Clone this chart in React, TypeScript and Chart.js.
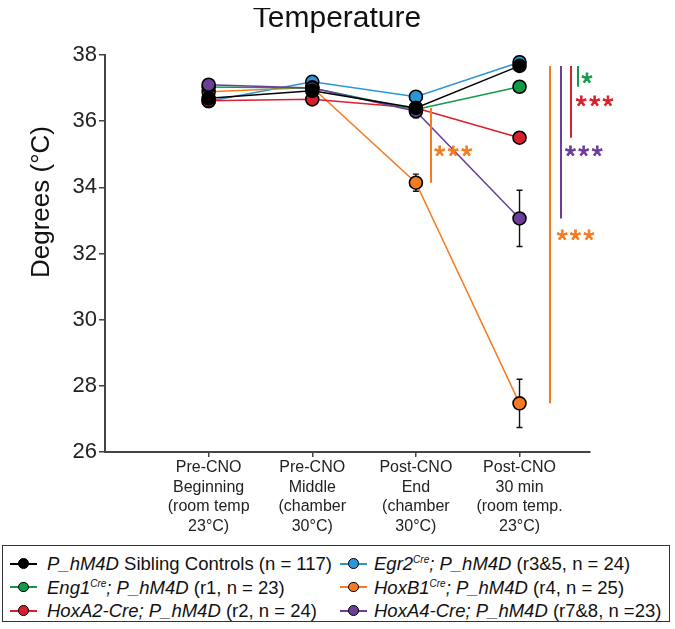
import React, { useEffect, useRef } from "react";
import { Chart, registerables } from "chart.js";

Chart.register(...registerables);

const FONT = "'Liberation Sans', Arial, Helvetica, sans-serif";

// Category positions and their multi-line labels
const xPositions = [1, 2, 3, 4];
const xLabels = [
  ["Pre-CNO", "Beginning", "(room temp", "23°C)"],
  ["Pre-CNO", "Middle", "(chamber", "30°C)"],
  ["Post-CNO", "End", "(chamber", "30°C)"],
  ["Post-CNO", "30 min", "(room temp.", "23°C)"],
];
const yTicks = [26, 28, 30, 32, 34, 36, 38];

// Series values (°C) and error (SEM)
const controls = [36.69, 36.92, 36.4, 37.67];
const controlsErr = [0.06, 0.06, 0.12, 0.06];
const eng1 = [37.03, 37.0, 36.35, 37.04];
const eng1Err = [0.08, 0.08, 0.1, 0.1];
const hoxA2 = [36.62, 36.66, 36.4, 35.5];
const hoxA2Err = [0.08, 0.08, 0.1, 0.12];
const egr2 = [36.6, 37.19, 36.74, 37.78];
const egr2Err = [0.08, 0.08, 0.1, 0.08];
const hoxB1 = [36.89, 37.02, 34.14, 27.47];
const hoxB1Err = [0.08, 0.08, 0.26, 0.73];
const hoxA4 = [37.1, 37.0, 36.3, 33.06];
const hoxA4Err = [0.08, 0.08, 0.2, 0.85];

const colBlack = "#000000";
const colGreen = "#109a4a";
const colRed = "#d8202c";
const colBlue = "#2b95d6";
const colOrange = "#f47b20";
const colPurple = "#6b3d99";

// Significance brackets (x in axis units, from value to value)
const sigLines = [
  { x: 4.566, from: controls[3], to: eng1[3], color: colGreen },
  { x: 4.494, from: controls[3], to: hoxA2[3], color: colRed },
  { x: 4.398, from: controls[3], to: hoxA4[3], color: colPurple },
  { x: 4.295, from: controls[3], to: hoxB1[3], color: colOrange },
  { x: 3.144, from: controls[2], to: hoxB1[2], color: colOrange },
];
const sigStars = [
  { text: "*", x: 4.65, y: 37.3, color: colGreen },
  { text: "***", x: 4.725, y: 36.62, color: colRed },
  { text: "***", x: 4.62, y: 35.11, color: colPurple },
  { text: "***", x: 4.54, y: 32.56, color: colOrange },
  { text: "***", x: 3.36, y: 35.11, color: colOrange },
];

const series = [
  { name: "Controls", values: controls, err: controlsErr, color: colBlack, order: 0 },
  { name: "Eng1", values: eng1, err: eng1Err, color: colGreen, order: 2 },
  { name: "HoxA2", values: hoxA2, err: hoxA2Err, color: colRed, order: 3 },
  { name: "Egr2", values: egr2, err: egr2Err, color: colBlue, order: 5 },
  { name: "HoxB1", values: hoxB1, err: hoxB1Err, color: colOrange, order: 4 },
  { name: "HoxA4", values: hoxA4, err: hoxA4Err, color: colPurple, order: 1 },
];

const supStyle: React.CSSProperties = { fontSize: 10, verticalAlign: "baseline", position: "relative", top: -7 };

const legendLeft = [
  { color: colBlack, content: (<><i>P_hM4D</i> Sibling Controls (n = 117)</>) },
  { color: colGreen, content: (<><i>Eng1<sup style={supStyle}>Cre</sup>; P_hM4D</i> (r1, n = 23)</>) },
  { color: colRed, content: (<><i>HoxA2-Cre; P_hM4D</i> (r2, n = 24)</>) },
];
const legendRight = [
  { color: colBlue, content: (<><i>Egr2<sup style={supStyle}>Cre</sup>; P_hM4D</i> (r3&amp;5, n = 24)</>) },
  { color: colOrange, content: (<><i>HoxB1<sup style={supStyle}>Cre</sup>; P_hM4D</i> (r4, n = 25)</>) },
  { color: colPurple, content: (<><i>HoxA4-Cre; P_hM4D</i> (r7&amp;8, n =23)</>) },
];

const annotPlugin = {
  id: "annot",
  beforeDatasetsDraw(chart: any) {
    const { ctx, scales } = chart;
    const xs = scales.x, ys = scales.y;
    ctx.save();
    ctx.strokeStyle = "#111";
    ctx.lineWidth = 1.4;
    series.forEach((s) => {
      s.values.forEach((v, i) => {
        const e = s.err[i];
        const px = xs.getPixelForValue(xPositions[i]);
        const top = ys.getPixelForValue(v + e);
        const bot = ys.getPixelForValue(v - e);
        ctx.beginPath();
        ctx.moveTo(px, top);
        ctx.lineTo(px, bot);
        ctx.moveTo(px - 3, top);
        ctx.lineTo(px + 3, top);
        ctx.moveTo(px - 3, bot);
        ctx.lineTo(px + 3, bot);
        ctx.stroke();
      });
    });
    ctx.restore();
  },
  afterDatasetsDraw(chart: any) {
    const { ctx, scales } = chart;
    const xs = scales.x, ys = scales.y;
    ctx.save();
    ctx.lineWidth = 2;
    sigLines.forEach((l) => {
      const px = Math.round(xs.getPixelForValue(l.x));
      ctx.strokeStyle = l.color;
      ctx.beginPath();
      ctx.moveTo(px, ys.getPixelForValue(l.from));
      ctx.lineTo(px, ys.getPixelForValue(l.to));
      ctx.stroke();
    });
    ctx.font = `28px ${FONT}`;
    ctx.textAlign = "left";
    ctx.textBaseline = "alphabetic";
    const pitch = 13.4;
    sigStars.forEach((s) => {
      const m = ctx.measureText("*");
      const cy = ys.getPixelForValue(s.y);
      const y = cy + (m.actualBoundingBoxAscent - m.actualBoundingBoxDescent) / 2;
      const n = s.text.length;
      const cx = xs.getPixelForValue(s.x);
      ctx.fillStyle = s.color;
      ctx.strokeStyle = s.color;
      ctx.lineWidth = 0.8;
      for (let k = 0; k < n; k++) {
        const sx = cx + (k - (n - 1) / 2) * pitch - m.width / 2;
        ctx.fillText("*", sx, y);
        ctx.strokeText("*", sx, y);
      }
    });
    // Title
    ctx.fillStyle = "#111";
    ctx.font = `30px ${FONT}`;
    ctx.textAlign = "center";
    ctx.textBaseline = "alphabetic";
    ctx.fillText("Temperature", 329, 19);
    // Y title
    ctx.translate(34, 194);
    ctx.rotate(-Math.PI / 2);
    ctx.font = `26px ${FONT}`;
    ctx.textBaseline = "middle";
    ctx.fillText("Degrees (°C)", 0, 0);
    ctx.restore();
  },
};

function Marker({ color }: { color: string }) {
  return (
    <span style={{ position: "absolute", left: 0, top: 0, width: 27, height: 23.5 }}>
      <span style={{ position: "absolute", left: 0, top: 10.75, width: 27, height: 2, background: color }} />
      <span style={{ position: "absolute", left: 8, top: 6.3, width: 8.5, height: 8.5, borderRadius: "50%", background: color, border: "1.6px solid #000" }} />
    </span>
  );
}

export default function App() {
  const ref = useRef<HTMLCanvasElement>(null);
  useEffect(() => {
    const canvas = ref.current!;
    const chart = new Chart(canvas, {
      type: "line",
      data: {
        datasets: series.map((s) => ({
          label: s.name,
          data: s.values.map((v, i) => ({ x: xPositions[i], y: v })),
          borderColor: s.color,
          backgroundColor: s.color,
          pointBackgroundColor: s.color,
          pointBorderColor: "#000",
          pointBorderWidth: 1.6,
          pointRadius: 6.5,
          borderWidth: 1.5,
          tension: 0,
          order: s.order,
        })),
      },
      options: {
        responsive: false,
        animation: false,
        events: [],
        layout: { padding: { top: 47, right: 77, left: 0, bottom: 0 } },
        plugins: {
          legend: { display: false },
          title: { display: false },
          tooltip: { enabled: false },
        },
        scales: {
          x: {
            type: "linear",
            min: 0,
            max: 4.68,
            afterBuildTicks: (s: any) => {
              s.ticks = xPositions.map((v) => ({ value: v }));
            },
            afterFit: (s: any) => {
              s.height = 86;
            },
            grid: { display: true, drawOnChartArea: false, drawTicks: true, tickLength: 5, color: "#444", lineWidth: 1.5 },
            border: { display: true, color: "#444", width: 2 },
            ticks: {
              callback: (v: any) => xLabels[xPositions.indexOf(Number(v))] ?? "",
              font: { size: 16, family: FONT, lineHeight: 1.22 },
              color: "#222",
              padding: 1,
              maxRotation: 0,
              autoSkip: false,
            },
          },
          y: {
            type: "linear",
            min: yTicks[0],
            max: yTicks[yTicks.length - 1],
            afterBuildTicks: (s: any) => {
              s.ticks = yTicks.map((v) => ({ value: v }));
            },
            afterFit: (s: any) => {
              s.width = 97;
            },
            grid: { display: true, drawOnChartArea: false, drawTicks: true, tickLength: 6, color: "#444", lineWidth: 1.5 },
            border: { display: true, color: "#444", width: 2 },
            ticks: {
              font: { size: 22, family: FONT },
              color: "#222",
              padding: 2,
            },
          },
        },
      },
      plugins: [annotPlugin],
    } as any);
    return () => chart.destroy();
  }, []);

  const rowStyle = (i: number): React.CSSProperties => ({
    position: "absolute",
    top: 6 + i * 23.5,
    height: 23.5,
    lineHeight: "23.5px",
    whiteSpace: "nowrap",
  });

  return (
    <div style={{ fontFamily: FONT }}>
      <canvas ref={ref} width={659} height={530} style={{ display: "block", width: 659, height: 530 }} />
      <div
        style={{
          position: "absolute",
          left: 2,
          top: 545,
          width: 668,
          height: 77,
          boxSizing: "border-box",
          border: "1.5px solid #333",
          fontSize: 18.5,
          color: "#111",
        }}
      >
        {legendLeft.map((e, i) => (
          <div key={"l" + i} style={{ ...rowStyle(i), left: 7 }}>
            <Marker color={e.color} />
            <span style={{ position: "absolute", left: 37 }}>{e.content}</span>
          </div>
        ))}
        {legendRight.map((e, i) => (
          <div key={"r" + i} style={{ ...rowStyle(i), left: 337 }}>
            <Marker color={e.color} />
            <span style={{ position: "absolute", left: 34 }}>{e.content}</span>
          </div>
        ))}
      </div>
    </div>
  );
}
